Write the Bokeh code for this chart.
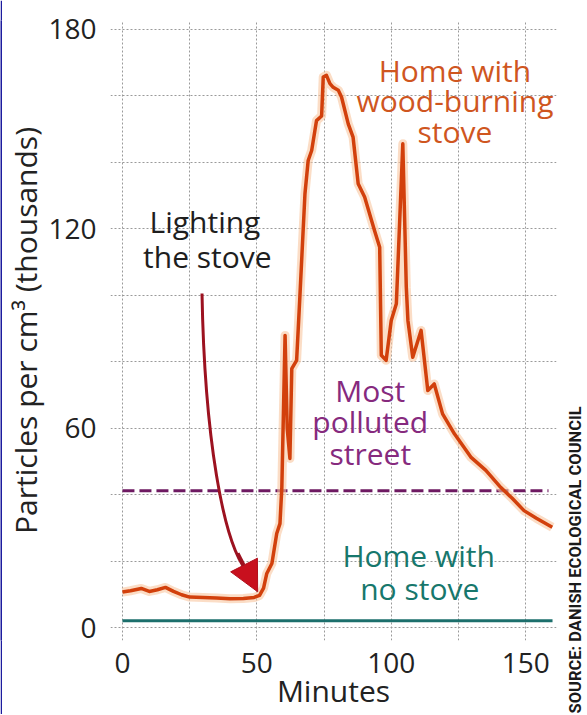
from bokeh.plotting import figure
from bokeh.layouts import row
from bokeh.models import FixedTicker, Label, Arrow, NormalHead, Range1d, Title
from bokeh.embed import file_html
from bokeh.resources import INLINE

# ---------------- data ----------------
minutes = [0, 3, 7, 10, 13, 16, 19, 22, 25, 30, 35, 40, 45, 49, 51, 52.5, 53.7,
           55.6, 57.4, 58.6, 59.3, 60.5, 61.3, 62.3, 63, 64.8, 66, 67.9, 69.1,
           70.4, 72.2, 74.1, 74.7, 75.9, 77.2, 78.4, 80.3, 81.5, 84, 85.8, 87.7,
           90.1, 93.8, 95.7, 96.3, 98.1, 100, 101.9, 104.3, 105.6, 106.2, 108,
           111.1, 113.6, 116, 119.1, 123.5, 129.6, 135.2, 140.7, 145, 149.4,
           154, 159.9]
stove_home = [10.8, 11.2, 11.9, 11.0, 11.5, 12.2, 11.0, 10.0, 9.3, 9.2, 9.0,
              8.8, 8.9, 9.2, 9.8, 12.0, 16.4, 19.4, 28.4, 31.4, 42.3, 88.0,
              60.0, 51.0, 78.0, 80.5, 99.5, 130.6, 140.6, 143.6, 152.6, 154.0,
              165.7, 166.2, 163.7, 162.6, 161.7, 159.7, 151.6, 147.6, 133.6,
              129.6, 119.5, 114.5, 82.0, 80.5, 92.5, 97.5, 145.6, 102.5, 92.5,
              81.4, 89.5, 71.4, 73.4, 64.4, 58.4, 51.4, 47.4, 42.3, 39.0, 35.3,
              33.0, 30.3]
street_minutes = [0, 158.5]
street_level = [41.3, 41.3]
no_stove_minutes = [0, 160]
no_stove_level = [2.2, 2.2]

x_ticks = [0, 50, 100, 150]
y_ticks = [0, 60, 120, 180]
x_grid = [0, 25, 50, 75, 100, 125, 150]
y_grid = [0, 20, 40, 60, 80, 100, 120, 140, 160, 180]

FONT = "Open Sans"
ORANGE_LINE = "#d2400c"
ORANGE_TEXT = "#cf561f"
PURPLE_LINE = "#6e1a62"
PURPLE_TEXT = "#862a7e"
TEAL_LINE = "#1c6f6c"
TEAL_TEXT = "#17776c"
ARROW = "#9c1220"
EDGE = "#1c1c9e"

H = 714

p = figure(width=558, height=H,
           x_range=Range1d(-4.444, 161.48), y_range=Range1d(-3.76, 182.7),
           output_backend="svg", toolbar_location=None,
           min_border_left=106, min_border_right=4,
           min_border_top=20, min_border_bottom=74)
p.outline_line_color = None
p.background_fill_color = "white"
p.border_fill_color = "white"

# axes
for ax in (p.xaxis, p.yaxis):
    ax.axis_line_color = None
    ax.major_tick_line_color = None
    ax.minor_tick_line_color = None
    ax.major_label_text_font = FONT
    ax.major_label_text_font_size = "28px"
    ax.major_label_text_color = "#222222"
    ax.axis_label_text_font = FONT
    ax.axis_label_text_font_size = "30px"
    ax.axis_label_text_font_style = "normal"
    ax.axis_label_text_color = "#222222"

p.xaxis.ticker = FixedTicker(ticks=x_ticks)
p.yaxis.ticker = FixedTicker(ticks=y_ticks)
p.xaxis.major_label_standoff = 6
p.yaxis.major_label_standoff = 8
p.xaxis.axis_label = "Minutes"
p.xaxis.axis_label_standoff = -6
p.yaxis.axis_label = "Particles per cm³ (thousands)"
p.yaxis.axis_label_standoff = -1

# grid
p.xgrid.ticker = FixedTicker(ticks=x_grid)
p.ygrid.ticker = FixedTicker(ticks=y_grid)
for g in (p.xgrid, p.ygrid):
    g.grid_line_color = "#9a9a9a"
    g.grid_line_dash = "2 2"
    g.grid_line_width = 1

# series
p.line(no_stove_minutes, no_stove_level, line_color=TEAL_LINE, line_width=3)
p.line(street_minutes, street_level, line_color=PURPLE_LINE, line_width=3,
       line_dash="12 5")
p.line(minutes, stove_home, line_color="#f9c7a0", line_width=9, line_alpha=0.6,
       line_join="round")
p.line(minutes, stove_home, line_color=ORANGE_LINE, line_width=3.5,
       line_join="round")

# annotations
def lab(txt, x, y, color, size="30px"):
    p.add_layout(Label(x=x, y=y, text=txt, text_font=FONT, text_font_size=size,
                       text_color=color, text_align="center",
                       text_baseline="alphabetic"))

lab("Lighting", 30.7, 122.2, "#1e1e1e")
lab("the stove", 31.6, 111.7, "#1e1e1e")
lab("Home with", 123.7, 167.8, ORANGE_TEXT)
lab("wood-burning", 123.7, 158.6, ORANGE_TEXT)
lab("stove", 123.7, 149.3, ORANGE_TEXT)
lab("Most", 92.2, 71.3, PURPLE_TEXT)
lab("polluted", 92.2, 62.1, PURPLE_TEXT)
lab("street", 92.2, 52.5, PURPLE_TEXT)
lab("Home with", 110.2, 21.8, TEAL_TEXT)
lab("no stove", 110.6, 11.9, TEAL_TEXT)

# curved arrow
p.bezier(x0=[29.6], y0=[100.6], x1=[47.5], y1=[16.0],
         cx0=[30.5], cy0=[60.0], cx1=[37.0], cy1=[24.0],
         line_color=ARROW, line_width=3)
p.add_layout(Arrow(x_start=43.0, y_start=22.5, x_end=50.3, y_end=10.9,
                   line_color=ARROW, line_width=3,
                   end=NormalHead(size=30, fill_color="#c8101e",
                                  line_color="#b00f1c")))

# left page edge stripe
edge = figure(width=2, height=H, output_backend="svg", toolbar_location=None,
              x_axis_location=None, y_axis_location=None, min_border=0,
              x_range=Range1d(0, 1), y_range=Range1d(0, 1))
edge.background_fill_color = EDGE
edge.border_fill_color = EDGE
edge.outline_line_color = None
edge.grid.visible = False

# source credit column: a left-side title reading bottom-to-top
src = figure(width=26, height=H, output_backend="svg", toolbar_location=None,
             x_axis_location=None, y_axis_location=None, min_border=0,
             min_border_left=24, x_range=Range1d(0, 1), y_range=Range1d(0, 1))
src.outline_line_color = None
src.grid.visible = False
src.add_layout(Title(text="SOURCE: DANISH ECOLOGICAL COUNCIL", align="left",
                     offset=-73, standoff=0, text_font="Roboto",
                     text_font_style="bold", text_font_size="16.5px",
                     text_color="#1a1a1a"), "left")

layout = row(edge, p, src)
open("out.html", "w").write(file_html(layout, INLINE))
